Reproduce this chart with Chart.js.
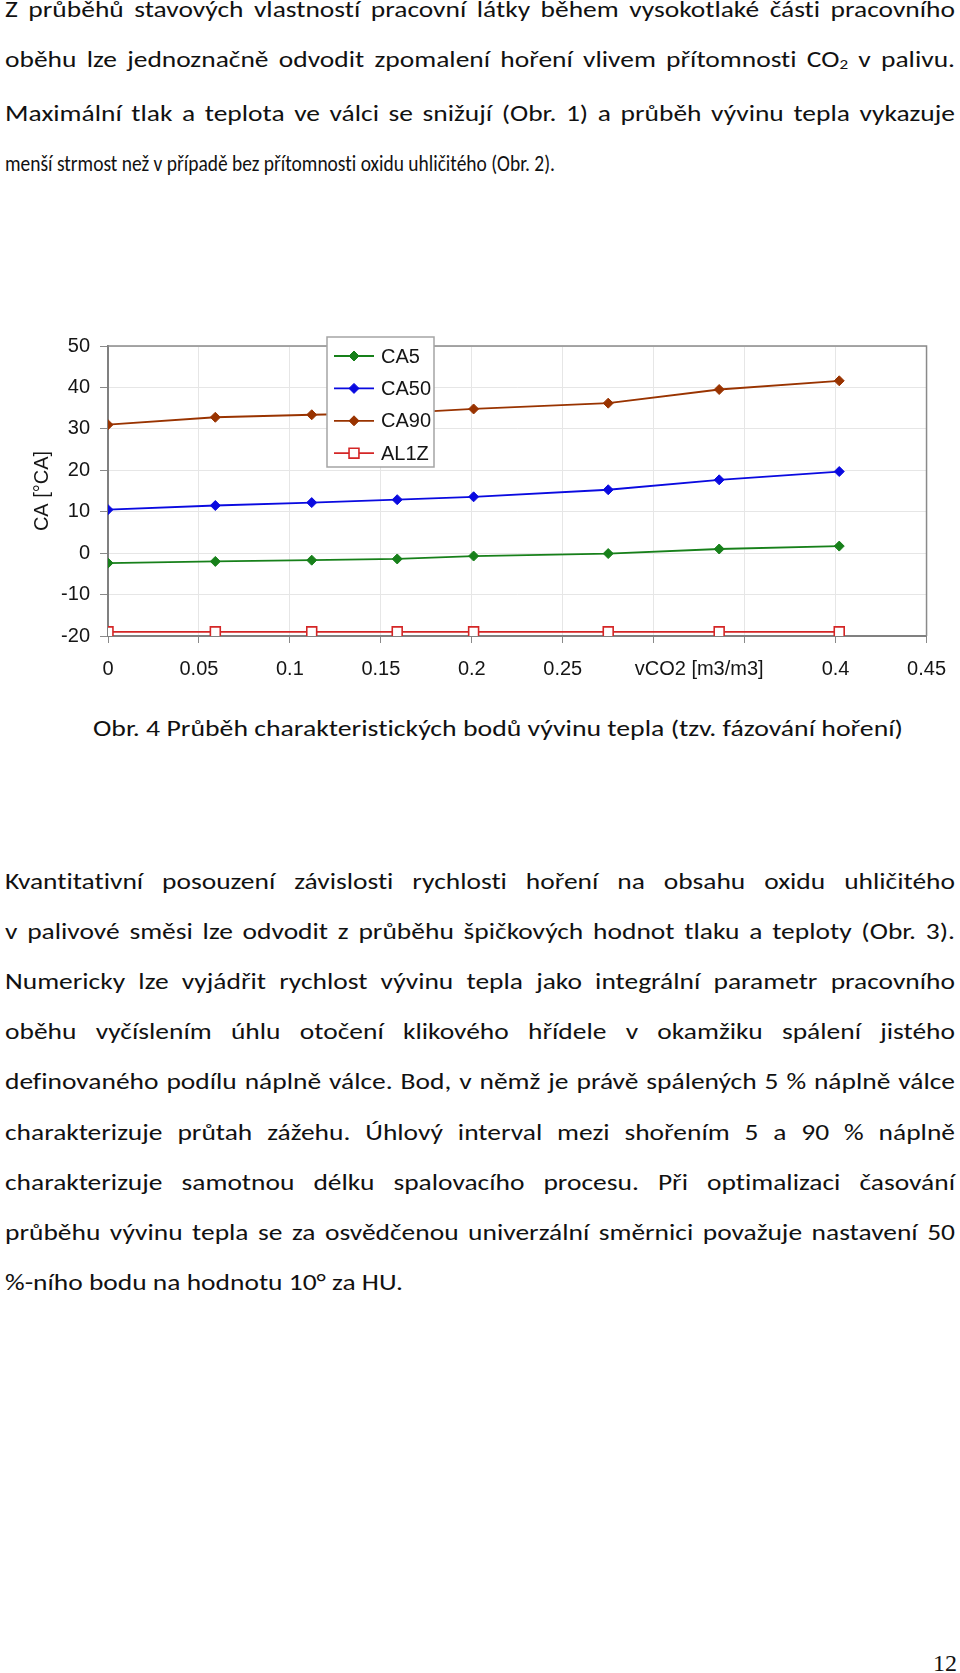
<!DOCTYPE html>
<html>
<head>
<meta charset="utf-8">
<script src="https://cdn.jsdelivr.net/npm/chart.js"></script>
<style>
body { margin: 0; width: 960px; height: 1673px; position: relative; overflow: hidden; background: #fff; }
.para { position: absolute; left: 5px; font-family: Carlito, Lato, sans-serif; font-size: 21.5px; color: #111; font-variant-ligatures: none; }
.line { white-space: nowrap; transform-origin: 0 0; }
.line.just { white-space: normal; text-align: justify; text-align-last: justify; }
.sub { font-size: 0.62em; vertical-align: -0.18em; }
#chart { position: absolute; left: 0; top: 300px; }
#page { position: absolute; right: 3px; top: 1651px; font-family: 'Liberation Serif', serif; font-size: 24px; line-height: 24px; color: #111; }
</style>
</head>
<body>
<div class="para" id="p1" style="top:-14px; line-height:49.8px"></div>
<canvas id="chart" width="960" height="400"></canvas>
<div class="para" id="cap" style="left:93px; top:703.6px; line-height:50.2px"></div>
<div class="para" id="p2" style="top:856.5px; line-height:50.2px"></div>
<div id="page">12</div>
<script>
// text of the page, one entry per printed line
const para1 = [
	"Z průběhů stavových vlastností pracovní látky během vysokotlaké části pracovního",
	"oběhu lze jednoznačně odvodit zpomalení hoření vlivem přítomnosti CO<span class=\"sub\">2</span> v palivu.",
	"Maximální tlak a teplota ve válci se snižují (Obr. 1) a průběh vývinu tepla vykazuje",
	"menší strmost než v případě bez přítomnosti oxidu uhličitého (Obr. 2).",
]
const caption = "Obr. 4 Průběh charakteristických bodů vývinu tepla (tzv. fázování hoření)"
const para2 = [
	"Kvantitativní posouzení závislosti rychlosti hoření na obsahu oxidu uhličitého",
	"v palivové směsi lze odvodit z průběhu špičkových hodnot tlaku a teploty (Obr. 3).",
	"Numericky lze vyjádřit rychlost vývinu tepla jako integrální parametr pracovního",
	"oběhu vyčíslením úhlu otočení klikového hřídele v okamžiku spálení jistého",
	"definovaného podílu náplně válce. Bod, v němž je právě spálených 5 % náplně válce",
	"charakterizuje průtah zážehu. Úhlový interval mezi shořením 5 a 90 % náplně",
	"charakterizuje samotnou délku spalovacího procesu. Při optimalizaci časování",
	"průběhu vývinu tepla se za osvědčenou univerzální směrnici považuje nastavení 50",
	"%-ního bodu na hodnotu 10° za HU.",
]

// chart data
const co2 = [0, 0.059, 0.112, 0.159, 0.201, 0.275, 0.336, 0.402]
const ca5 = [-2.4, -2.0, -1.7, -1.4, -0.7, -0.1, 1.0, 1.7]
const ca50 = [10.5, 11.5, 12.2, 12.9, 13.6, 15.3, 17.7, 19.7]
const ca90 = [31.0, 32.8, 33.4, 33.8, 34.8, 36.2, 39.5, 41.6]
const al1z = [-19, -19, -19, -19, -19, -19, -19, -19]
const seriesNames = ["CA5", "CA50", "CA90", "AL1Z"]
const hiddenXTicks = [0.3, 0.35]
const xTitle = "vCO2 [m3/m3]"
const yTitle = "CA [°CA]"

function addLines(id, lines) {
	let box = document.getElementById(id)
	return lines.map(t => {
		let div = document.createElement("div")
		div.className = "line"
		div.innerHTML = "<span>" + t + "</span>"
		box.appendChild(div)
		return {div: div, w: div.firstChild.getBoundingClientRect().width}
	})
}

function justify(item, k) {
	let sc = Math.min(k, 948 / item.w)
	item.div.classList.add("just")
	item.div.style.width = (950 / sc) + "px"
	item.div.style.transform = "scaleX(" + sc + ")"
}

function fitTo(item, width) {
	item.div.style.transform = "scaleX(" + (width / item.w) + ")"
}

let p1 = addLines("p1", para1)
let cap = addLines("cap", [caption])
let p2 = addLines("p2", para2)
let k = 398 / p2[p2.length - 1].w
p1.slice(0, -1).forEach(it => justify(it, k))
p2.slice(0, -1).forEach(it => justify(it, k))
fitTo(p1[p1.length - 1], 550)
fitTo(p2[p2.length - 1], 398)
fitTo(cap[0], 810)

Chart.defaults.font.family = "'Liberation Sans', Arial, sans-serif"
Chart.defaults.font.size = 20
Chart.defaults.color = "#151515"

function points(ys) {
	return co2.map((x, i) => ({x: x, y: ys[i]}))
}

function diamondSet(label, ys, color) {
	return {
		label: label,
		data: points(ys),
		borderColor: color,
		backgroundColor: color,
		borderWidth: 1.8,
		pointStyle: "rectRot",
		pointRadius: 5,
		pointBackgroundColor: color,
		pointBorderColor: color,
		pointBorderWidth: 1,
	}
}

function drawMarker(ctx, ds, x, y) {
	let r = ds.pointRadius
	ctx.beginPath()
	if (ds.pointStyle == "rect") {
		let s = r * Math.SQRT1_2
		ctx.rect(x - s, y - s, 2 * s, 2 * s)
	} else {
		ctx.moveTo(x - r, y)
		ctx.lineTo(x, y - r)
		ctx.lineTo(x + r, y)
		ctx.lineTo(x, y + r)
		ctx.closePath()
	}
	ctx.fillStyle = ds.pointBackgroundColor
	ctx.fill()
	ctx.lineWidth = ds.pointBorderWidth
	ctx.strokeStyle = ds.pointBorderColor
	ctx.stroke()
}

const frame = {
	id: "frame",
	beforeDatasetsDraw(chart) {
		let a = chart.chartArea
		let ctx = chart.ctx
		ctx.save()
		ctx.strokeStyle = "#8a8a8a"
		ctx.lineWidth = 1.5
		ctx.beginPath()
		ctx.moveTo(a.left, a.top)
		ctx.lineTo(a.right, a.top)
		ctx.lineTo(a.right, a.bottom)
		ctx.stroke()
		ctx.restore()
	},
}

const legendBox = {
	id: "legendBox",
	afterDatasetsDraw(chart) {
		let a = chart.chartArea
		let ctx = chart.ctx
		let left = a.left + 219
		let top = a.top - 9
		ctx.save()
		ctx.fillStyle = "#fff"
		ctx.fillRect(left, top, 107, 130)
		ctx.strokeStyle = "#a5a5a5"
		ctx.lineWidth = 1.5
		ctx.strokeRect(left, top, 107, 130)
		ctx.font = "20px 'Liberation Sans', Arial, sans-serif"
		ctx.textBaseline = "middle"
		chart.data.datasets.forEach((ds, i) => {
			let y = top + 19 + i * 32.4
			ctx.strokeStyle = ds.borderColor
			ctx.lineWidth = ds.borderWidth
			ctx.beginPath()
			ctx.moveTo(left + 7, y)
			ctx.lineTo(left + 47, y)
			ctx.stroke()
			drawMarker(ctx, ds, left + 27, y)
			ctx.fillStyle = "#151515"
			ctx.fillText(ds.label, left + 54, y + 1)
		})
		ctx.restore()
	},
}

const xAxisTitle = {
	id: "xAxisTitle",
	afterDraw(chart) {
		let sx = chart.scales.x
		let x = (sx.getPixelForValue(hiddenXTicks[0]) + sx.getPixelForValue(hiddenXTicks[1])) / 2
		let ctx = chart.ctx
		ctx.save()
		ctx.font = "20px 'Liberation Sans', Arial, sans-serif"
		ctx.fillStyle = "#151515"
		ctx.textAlign = "center"
		ctx.textBaseline = "middle"
		ctx.fillText(xTitle, x, sx.top + 33)
		ctx.restore()
	},
}

let chart = new Chart(document.getElementById("chart"), {
	type: "line",
	data: {
		datasets: [
			diamondSet(seriesNames[0], ca5, "#17801a"),
			diamondSet(seriesNames[1], ca50, "#0a0ae0"),
			diamondSet(seriesNames[2], ca90, "#993300"),
			{
				label: seriesNames[3],
				data: points(al1z),
				borderColor: "#d42626",
				backgroundColor: "#fff",
				borderWidth: 1.8,
				pointStyle: "rect",
				pointRadius: 7,
				pointBackgroundColor: "#fff",
				pointBorderColor: "#d42626",
				pointBorderWidth: 1.6,
			},
		],
	},
	options: {
		responsive: false,
		animation: false,
		layout: {padding: {top: 46, right: 28, bottom: 0, left: 0}},
		plugins: {
			legend: {display: false},
			tooltip: {enabled: false},
		},
		elements: {line: {tension: 0}},
		scales: {
			x: {
				type: "linear",
				min: 0,
				max: 0.45,
				afterFit(scale) { scale.height = 64 },
				ticks: {
					stepSize: 0.05,
					padding: 14,
					maxRotation: 0,
					autoSkip: false,
					callback: (v) => hiddenXTicks.some(h => Math.abs(h - v) < 1e-9) ? "" : String(Math.round(v * 100) / 100),
				},
				grid: {color: "#e6e6e6", tickColor: "#8a8a8a", tickLength: 7},
				border: {color: "#808080", width: 2},
			},
			y: {
				min: -20,
				max: 50,
				afterFit(scale) { scale.width = 108 },
				ticks: {stepSize: 10, padding: 10},
				grid: {color: "#e6e6e6", tickColor: "#8a8a8a", tickLength: 8},
				border: {color: "#808080", width: 2},
				title: {display: true, text: yTitle, padding: {top: 30, bottom: 0}, color: "#151515"},
			},
		},
	},
	plugins: [frame, legendBox, xAxisTitle],
})
</script>
</body>
</html>
